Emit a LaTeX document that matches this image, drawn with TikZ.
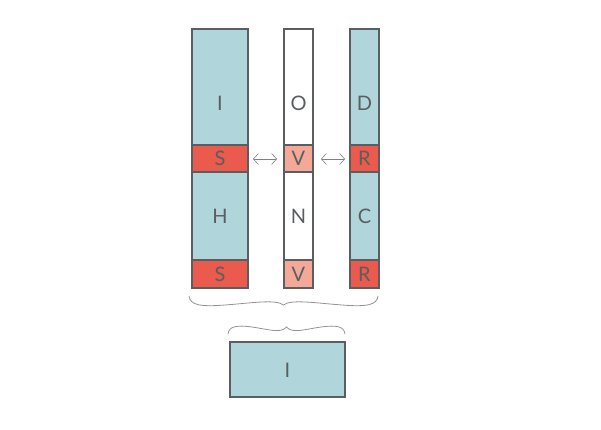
\documentclass[tikz,border=0pt]{standalone}
\usepackage{fontspec}
\setmainfont{Lato}
\usetikzlibrary{arrows.meta}
\definecolor{tealc}{HTML}{B0D5DA}
\definecolor{redc}{HTML}{EA5A4D}
\definecolor{salc}{HTML}{F4A897}
\definecolor{edgec}{HTML}{5A5E60}
\definecolor{txtc}{HTML}{5A5E60}
\begin{document}
\begin{tikzpicture}[x=1pt,y=-1pt,
  cell/.style={draw=edgec,line width=1.8pt},
  lbl/.style={text=txtc,font=\fontsize{20}{22}\selectfont,inner sep=0pt},
  bracec/.style={draw=gray!85,line width=0.8pt},
  dblarrow/.style={draw=gray,line width=0.6pt,{Straight Barb[length=5pt,width=11pt]}-{Straight Barb[length=5pt,width=11pt]}}]
\useasboundingbox (0,0) rectangle (601,430);
% left column
\draw[cell,fill=tealc] (192,29) rectangle (248,145);
\draw[cell,fill=redc] (192,145) rectangle (248,172);
\draw[cell,fill=tealc] (192,172) rectangle (248,260);
\draw[cell,fill=redc] (192,260) rectangle (248,288);
\node[lbl] (i1) at (220,103) {I};
\node[lbl] (s1) at (220,158.5) {S};
\node[lbl] (h) at (220,216) {H};
\node[lbl] (s2) at (220,274) {S};
% middle column
\draw[cell,fill=white] (284,29) rectangle (313,145);
\draw[cell,fill=salc] (284,145) rectangle (313,172);
\draw[cell,fill=white] (284,172) rectangle (313,260);
\draw[cell,fill=salc] (284,260) rectangle (313,288);
\node[lbl] (o) at (298.5,103) {O};
\node[lbl] (v1) at (298.5,158.5) {V};
\node[lbl] (n) at (298.5,216) {N};
\node[lbl] (v2) at (298.5,274) {V};
% right column
\draw[cell,fill=tealc] (350,29) rectangle (379,145);
\draw[cell,fill=redc] (350,145) rectangle (379,172);
\draw[cell,fill=tealc] (350,172) rectangle (379,260);
\draw[cell,fill=redc] (350,260) rectangle (379,288);
\node[lbl] (d) at (364.5,103) {D};
\node[lbl] (r1) at (364.5,158.5) {R};
\node[lbl] (c) at (364.5,216) {C};
\node[lbl] (r2) at (364.5,274) {R};
% arrows
\coordinate (a1) at (253,159); \coordinate (a2) at (277,159);
\coordinate (b1) at (321,159); \coordinate (b2) at (345,159);
\draw[dblarrow] (a1) -- (a2);
\draw[dblarrow] (b1) -- (b2);
% brace 1 (tip down)
\coordinate (p1) at (189,296);
\coordinate (p1t) at (283.5,305);
\coordinate (p1e) at (378,296);
\draw[bracec] (p1) .. controls (190,305) and (200,307) .. (225,305)
  .. controls (252,303) and (276,299) .. (p1t)
  .. controls (291,299) and (315,303) .. (342,305)
  .. controls (367,307) and (377,305) .. (p1e);
% brace 2 (tip up)
\coordinate (p2) at (228,334);
\coordinate (p2t) at (286.5,327);
\coordinate (p2e) at (345,334);
\draw[bracec] (p2) .. controls (229,326) and (237,325) .. (252,327)
  .. controls (267,329) and (281,334) .. (p2t)
  .. controls (292,334) and (306,329) .. (321,327)
  .. controls (336,325) and (344,326) .. (p2e);
% bottom box
\draw[cell,fill=tealc] (230,342) rectangle (345,397);
\node[lbl] (i2) at (287.5,370) {I};
\end{tikzpicture}
\end{document}
